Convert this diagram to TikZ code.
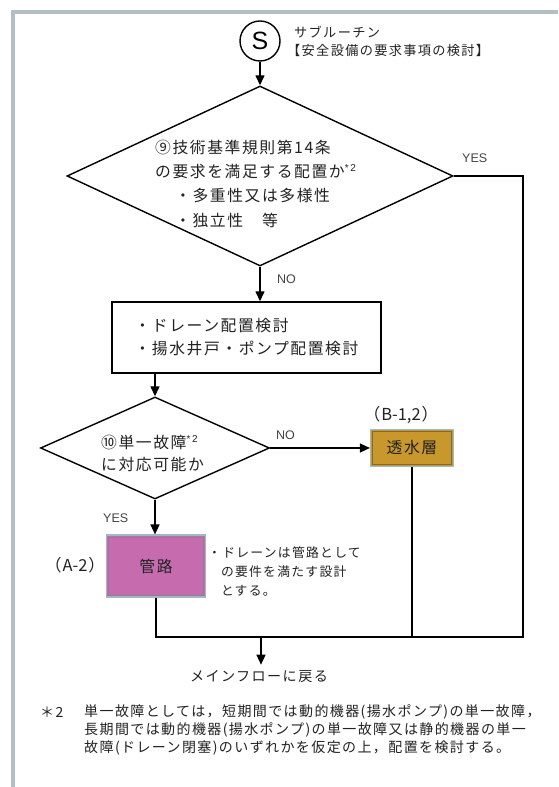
\documentclass[tikz,border=0pt]{standalone}
\usepackage{fontspec}
\setmainfont{Noto Sans CJK JP}
\newfontfamily\jpls[LetterSpace=10]{Noto Sans CJK JP}
\newfontfamily\jpf{Noto Sans CJK JP}
\newfontfamily\lat{Liberation Sans}
\usetikzlibrary{arrows.meta,shapes.geometric}
\definecolor{framec}{HTML}{B4BEC5}
\definecolor{txt}{HTML}{222222}
\definecolor{goldf}{HTML}{C9982C}
\definecolor{goldin}{HTML}{7D6B3A}
\definecolor{pinkf}{HTML}{C76BAF}
\definecolor{pinkin}{HTML}{8E7D96}
\definecolor{edgeb}{HTML}{A3B8C4}
\newcommand{\supstar}{\raisebox{6pt}{\lat\fontsize{10}{10}\selectfont *\,2}}
\begin{document}
\begin{tikzpicture}[x=1pt,y=1pt,
  line/.style={draw=black,line width=1.4pt},
  arr/.style={line,-{Triangle[width=9pt,length=10pt]}},
  dia/.style={diamond,draw=black,line width=1.4pt,inner sep=0pt},
  mainjp/.style={font=\jpls\fontsize{15.8}{24.3}\selectfont,text=txt,inner sep=0pt},
  smalljp/.style={font=\jpls\fontsize{13.2}{18}\selectfont,text=txt,inner sep=0pt},
  notejp/.style={font=\jpls\fontsize{12.8}{19}\selectfont,text=txt,inner sep=0pt},
  footjp/.style={font=\jpls\fontsize{14}{18}\selectfont,text=txt,inner sep=0pt},
  codejp/.style={font=\jpf\fontsize{16.5}{18}\selectfont,text=txt,inner sep=0pt},
  lab/.style={font=\lat\fontsize{12.5}{14}\selectfont,text=txt!85,inner sep=0pt},
  tbox/.style={draw=edgeb,line width=1.2pt,inner sep=0pt,font=\jpls\fontsize{15.8}{18}\selectfont,text=txt},
]
\useasboundingbox (0,0) rectangle (558,787);
\fill[white] (0,0) rectangle (558,787);
\draw[framec,line width=4pt] (13,0) -- (13,775) -- (558,775);

% start
\node[circle,draw=black,line width=1.4pt,minimum size=40pt,inner sep=0pt,font=\lat\fontsize{25}{25}\selectfont] (s) at (260,746) {S};
\node[smalljp,anchor=west] (sub1) at (294,755) {サブルーチン};
\node[smalljp,anchor=west] (sub2) at (287,737) {【安全設備の要求事項の検討】};

% decision 1
\node[dia,minimum width=386pt,minimum height=180pt] (d1) at (260,611) {};
\node[mainjp,anchor=west,align=left] (d1t) at (155,603.5) {⑨技術基準規則第14条\\の要求を満足する配置か\supstar\\\hspace{20pt}・多重性又は多様性\\\hspace{20pt}・独立性　等};
\draw[arr] (s) -- (d1.north);
\node[lab,anchor=west] (yes1) at (462,629) {YES};
\node[lab,anchor=west] (no1) at (277,508) {NO};

% process
\node[draw=black,line width=1.4pt,minimum width=269pt,minimum height=71pt,inner sep=0pt,align=left,font=\jpls\fontsize{15.8}{23}\selectfont,text=txt] (r1) at (246.5,449.5) {・ドレーン配置検討\\・揚水井戸・ポンプ配置検討};
\draw[arr] (d1.south) -- (d1.south |- r1.north);

% decision 2
\node[dia,minimum width=229pt,minimum height=102pt] (d2) at (155,339) {};
\node[mainjp,anchor=west,align=left,font=\jpls\fontsize{15.8}{22}\selectfont] (d2t) at (101,334) {⑩単一故障\supstar\\に対応可能か};
\draw[arr] (d2.north |- r1.south) -- (d2.north);
\node[lab,anchor=west] (no2) at (276,352) {NO};
\node[lab,anchor=west] (yes2) at (103,269) {YES};

% outcome boxes
\node[tbox,fill=goldf,minimum width=83pt,minimum height=37pt] (b1) at (412,339) {透水層};
\draw[goldin,line width=0.9pt] ([shift={(2.6pt,-2.6pt)}]b1.north west) rectangle ([shift={(-2.6pt,2.6pt)}]b1.south east);
\node[codejp] (b1l) at (401,372) {（\hspace{1pt}B-1,2\hspace{1pt}）};
\draw[arr] (d2.east) -- (d2.east -| b1.west);

\node[tbox,fill=pinkf,minimum width=99pt,minimum height=62pt] (b2) at (156,221) {管路};
\draw[pinkin,line width=0.9pt] ([shift={(2.6pt,-2.6pt)}]b2.north west) rectangle ([shift={(-2.6pt,2.6pt)}]b2.south east);
\node[codejp] (b2l) at (75,222) {（\hspace{1pt}A-2\hspace{1pt}）};
\draw[arr] (d2.south) -- (d2.south |- b2.north);
\node[notejp,anchor=west,align=left] (note) at (208,216) {・ドレーンは管路として\\\phantom{・}の要件を満たす設計\\\phantom{・}とする。};

% merge
\coordinate (br) at (523,150);
\coordinate (m) at (261,150);
\draw[line] (d1.east) -- (d1.east -| br) -- (br) -- (b2.south |- br) -- (b2.south);
\draw[line] (b1.south) -- (b1.south |- br);
\node[font=\jpls\fontsize{14.1}{18}\selectfont,text=txt,inner xsep=0pt,inner ysep=6pt] (ret) at (259,110) {メインフローに戻る};
\draw[arr] (m) -- (m |- ret.north);

% footnote
\node[footjp,anchor=west] (fn) at (40,75) {＊2};
\node[footjp,anchor=west,align=left] (fnt) at (84,57) {単一故障としては，短期間では動的機器(揚水ポンプ)の単一故障，\\長期間では動的機器(揚水ポンプ)の単一故障又は静的機器の単一\\故障(ドレーン閉塞)のいずれかを仮定の上，配置を検討する。};
\end{tikzpicture}
\end{document}
